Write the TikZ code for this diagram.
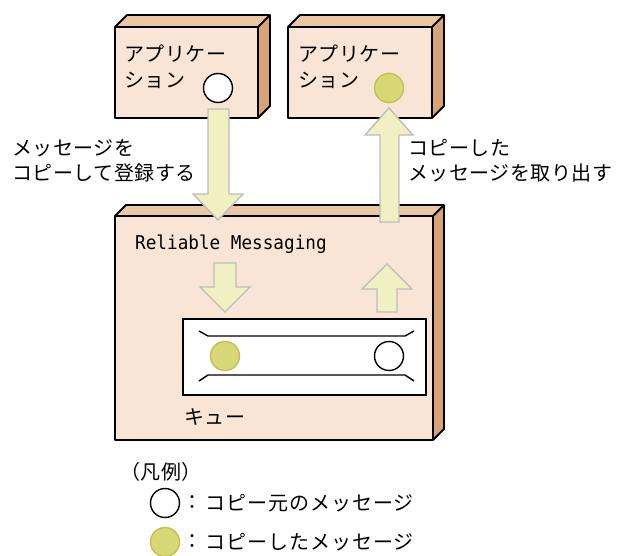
\documentclass[tikz,border=0pt]{standalone}
\usepackage{fontspec}
\setmainfont[LetterSpace=2.5]{Noto Sans CJK JP}
\newfontfamily\legf[LetterSpace=5]{Noto Sans CJK JP}
\newfontfamily\monof[FakeStretch=0.93]{DejaVu Sans Mono}
\definecolor{bfront}{HTML}{F8E5D6}
\definecolor{btop}{HTML}{EBC8A5}
\definecolor{bside}{HTML}{D6A476}
\definecolor{afill}{HTML}{F0F0C3}
\definecolor{aline}{HTML}{BDBDBD}
\definecolor{yfill}{HTML}{D8D878}
\definecolor{yline}{HTML}{C2C250}
\tikzset{
  boxface/.style={draw=black, line width=1.8pt, line join=round},
  blockarrow/.style={draw=aline, fill=afill, line width=1.4pt, line join=miter},
  whitemsg/.style={circle, draw=black, fill=white, line width=1.4pt, minimum size=29pt, inner sep=0pt},
  yellowmsg/.style={circle, draw=yline, fill=yfill, line width=1.4pt, minimum size=29pt, inner sep=0pt},
  jtext/.style={inner sep=0pt, anchor=west, font=\fontsize{20}{24}\selectfont},
}
\newcommand{\threedbox}[5]{% x1 y1 x2 y2 d
  \fill[btop] (#1,#2) -- ({#1+#5},{#2-#5}) -- ({#3+#5},{#2-#5}) -- (#3,#2) -- cycle;
  \fill[bside] (#3,#2) -- ({#3+#5},{#2-#5}) -- ({#3+#5},{#4-#5}) -- (#3,#4) -- cycle;
  \fill[bfront] (#1,#2) rectangle (#3,#4);
  \draw[boxface] (#1,#2) -- ({#1+#5},{#2-#5}) -- ({#3+#5},{#2-#5}) -- ({#3+#5},{#4-#5}) -- (#3,#4) -- (#1,#4) -- cycle;
  \draw[boxface] (#1,#2) -- (#3,#2) -- ({#3+#5},{#2-#5});
  \draw[boxface] (#3,#2) -- (#3,#4);
}
\begin{document}
\begin{tikzpicture}[x=1pt,y=-1pt]
\useasboundingbox (0,0) rectangle (619,556);
% boxes
\threedbox{115}{27}{258}{118}{12}
\threedbox{288}{27}{432}{118}{12}
\threedbox{115}{216}{433}{440}{11}
% application texts
\node[jtext] (a1l1) at (124,54) {アプリケー};
\node[jtext] (a1l2) at (124,80) {ション};
\node[jtext] (a2l1) at (298,54) {アプリケー};
\node[jtext] (a2l2) at (298,80) {ション};
\node[whitemsg] (c1) at (218,88) {};
\node[yellowmsg] (c2) at (389,88) {};
% big arrows
\draw[blockarrow] (208,109) -- (208,194) -- (193,194) -- (218,220) -- (243,194) -- (229,194) -- (229,109) -- cycle;
\draw[blockarrow] (380,222) -- (380,135) -- (365,135) -- (389,108) -- (413,135) -- (399,135) -- (399,222) -- cycle;
% side labels
\node[jtext] (l1) at (12,148) {メッセージを};
\node[jtext] (l2) at (12,173) {コピーして登録する};
\node[jtext] (r1) at (408,148) {コピーした};
\node[jtext] (r2) at (408,173) {メッセージを取り出す};
% reliable messaging
\node[inner sep=0pt, anchor=west, font=\monof\fontsize{19}{22}\selectfont] (rmt) at (135,244) {Reliable Messaging};
% inner arrows
\draw[blockarrow] (214,263) -- (214,287) -- (200,287) -- (225,312) -- (250,287) -- (236,287) -- (236,263) -- cycle;
\draw[blockarrow] (377,312) -- (377,289) -- (362,289) -- (387,264) -- (412,289) -- (397,289) -- (397,312) -- cycle;
% queue
\node[draw=black, fill=white, line width=1.6pt, minimum width=243pt, minimum height=76pt, inner sep=0pt] (queue) at (304.5,357) {};
\draw[black, line width=1.4pt] (199,331) -- (208,336) -- (405,336) -- (414,331);
\draw[black, line width=1.4pt] (199,381) -- (208,375) -- (405,375) -- (414,381);
\node[yellowmsg] (q1) at (225,356) {};
\node[whitemsg] (q2) at (389,356) {};
\node[jtext] (ql) at (184,417) {キュー};
% legend
\node[jtext] (leg) at (120,472) {（凡例）};
\node[whitemsg] (lc1) at (165,503) {};
\node[yellowmsg] (lc2) at (165,542) {};
\node[jtext] (lk1) at (182,503) {：};
\node[jtext] (lk2) at (182,542) {：};
\node[jtext, font=\legf\fontsize{20}{24}\selectfont] (lt1) at (205,503) {コピー元のメッセージ};
\node[jtext, font=\legf\fontsize{20}{24}\selectfont] (lt2) at (205,542) {コピーしたメッセージ};
\end{tikzpicture}
\end{document}
